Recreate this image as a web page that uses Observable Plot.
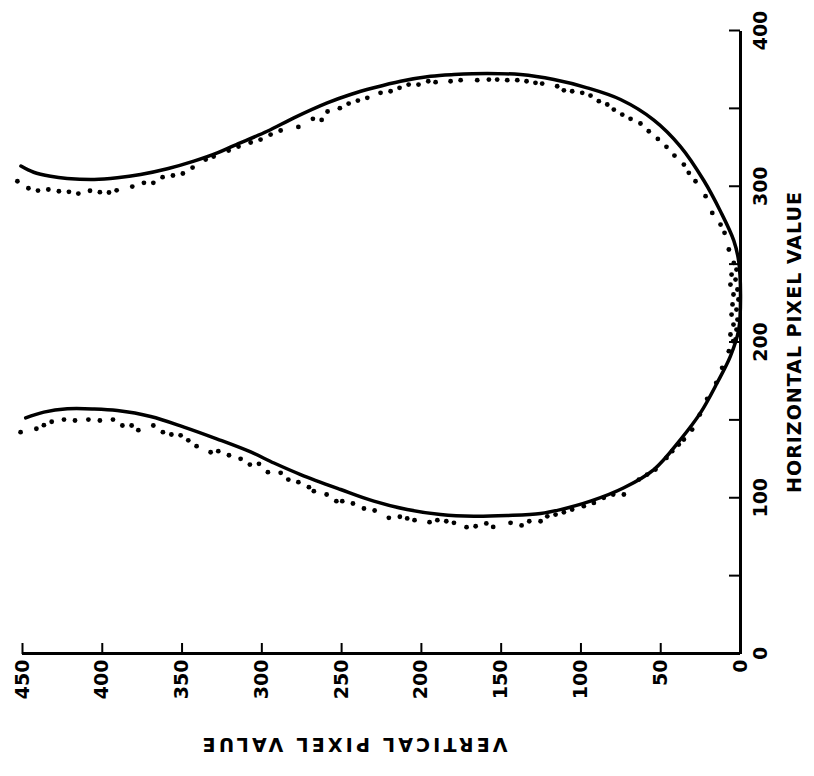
<!DOCTYPE html>
<html><head><meta charset="utf-8">
<script src="https://cdn.jsdelivr.net/npm/d3@7"></script>
<script src="https://cdn.jsdelivr.net/npm/@observablehq/plot@0.6"></script>
<style>
html,body{margin:0;padding:0;background:#fff;overflow:hidden;width:814px;height:776px;}
#wrap{position:absolute;left:0;top:0;width:776px;height:814px;transform-origin:0 0;transform:translate(0px,776px) rotate(-90deg);}
</style></head><body><div id="wrap"></div>
<script>
// Model curve (solid line), in path order: horizontal pixel value (h) and vertical pixel value (v)
const lineH = [313,309,306.4,305,304.3,305.4,307.5,311.2,316.1,321.4,326.1,335.3,343.9,353.5,358.9,363.2,367.4,370.6,371.7,372.4,371.7,368.5,363.2,355.7,342.5,325.5,303.7,283.8,265.1,251.7,230.5,208,190.9,173.8,154.5,137.4,118.1,106.4,97.8,92.4,89.9,88.6,88.1,89.2,92.4,97.8,105.3,114.9,122.3,129.4,137.7,145.4,152.2,156.0,157.0,157.1,155.0,151.3];
const lineV = [451,443,432.4,422,405,390.6,376,359.2,342.6,327.9,317.5,296.6,279.9,259,244.4,229.8,213,194.2,179.6,158.7,137.9,117,96.1,75.2,54.3,37.6,23,12.5,4.2,1.1,0,1.1,6.3,14.6,25.1,37.6,54.3,73.1,94,112.8,125.3,146.2,167.1,188,208.9,229.8,250.6,275.7,292.4,307.0,327.9,348.8,369.7,390.6,405.2,421.9,436.6,448];

// Measured points (dots)
const dotH = [303.2,298.7,297.2,297.9,296.8,296.4,295.3,297.1,296.2,296.0,297.4,299.8,302.2,302.2,305.8,306.9,308.2,312.0,317.1,319.1,322.9,325.5,328.1,330.0,333.2,335.8,338.1,343.3,342.6,348.0,350.1,353.1,355.0,356.8,360.0,361.0,363.2,365.3,365.3,367.4,366.8,367.4,368.1,368.1,368.5,368.5,368.1,368.1,367.4,366.4,365.9,364.2,361.6,361.0,360.0,358.2,354.6,352.5,349.2,346.0,343.3,340.3,335.3,330.4,325.3,319.7,313.9,308.6,303.2,293.6,282.9,275.4,270.1,259.4,250.8,
246.5,243.3,240.1,236.9,233.7,230.5,227.3,224.1,220.8,217.6,214.4,211.2,208.0,204.8,201.6,
200.5,194.1,183.4,173.8,163.5,153.4,143.8,137.4,134.2,129.9,125.6,118.1,114.9,111.7,102.1,102.1,100.0,96.7,94.6,92.4,90.7,89.2,88.1,84.9,84.9,82.2,83.9,81.3,83.5,81.7,81.1,83.9,84.9,85.6,84.3,85.6,86.7,87.8,87.1,91.8,93.1,96.3,97.8,97.8,102.1,104.2,106.8,110.0,111.7,116.0,116.4,121.8,121.3,125.0,127.3,129.9,129.2,133.1,136.9,140.1,140.6,142.1,146.4,143.4,146.4,146.4,150.2,149.6,150.2,149.6,150.2,148.8,146.6,144.3,142.1];
const dotV = [453.2,446.3,440.3,433.8,427.2,420.9,415.0,407.7,401.5,395.8,391.0,381.2,373.9,368.0,362.2,355.7,349.5,343.4,335.2,330.2,320.8,314.6,307.0,300.8,294.5,288.2,277.1,268.0,262.5,258.8,251.1,245.6,239.8,233.9,225.6,219.3,213.7,208.0,201.8,195.7,191.1,181.7,175.4,165.0,157.7,152.5,146.2,139.9,134.1,128.5,124.3,114.9,110.7,105.5,99.2,94.0,88.8,83.5,79.4,74.1,68.9,62.7,57.5,51.8,46.4,41.4,35.5,32.4,28.2,21.9,17.7,12.5,10.0,7.3,4.2,
2.5,5.6,3.1,6.3,1.9,4.4,1.3,5.0,2.5,5.6,1.9,4.4,2.5,6.3,3.1,
4.6,7.3,11.5,15.2,20.9,25.5,30.3,35.5,38.7,42.8,46.4,53.3,58.5,63.7,73.1,79.8,85.7,91.9,98.2,105.5,110.7,115.9,121.1,125.3,132.4,137.2,144.1,155.0,159.3,166.0,171.7,179.6,184.4,190.0,194.9,204.3,208.9,213.5,220.4,229.3,236.0,242.9,249.6,253.3,259.4,267.4,270.5,277.1,283.4,288.2,296.2,301.8,307.5,313.3,320.6,327.3,332.1,340.9,346.1,350.9,356.7,362.0,368.0,377.4,381.6,387.4,393.3,401.5,408.7,417.1,424.0,431.7,436.6,441.3,451.2];

const hTicks = [0,50,100,150,200,250,300,350,400];
const vTicks = [0,50,100,150,200,250,300,350,400,450];
const hLabels = [0,100,200,300,400];
const vLabels = [0,50,100,150,200,250,300,350,400,450];
const xTitle = "HORIZONTAL PIXEL VALUE";
const yTitle = "VERTICAL PIXEL VALUE";

const curve = lineH.map((h, i) => ({h, v: lineV[i]}));
const pts = dotH.map((h, i) => ({h, v: dotV[i]}));

const W = 776, H = 814, mL = 122, mR = 31, mT = 22, mB = 74, tick = 11;
const font = {fontSize: 19, fontWeight: "bold"};

const chart = Plot.plot({
  width: W, height: H,
  marginLeft: mL, marginRight: mR, marginTop: mT, marginBottom: mB,
  style: {fontFamily: "DejaVu Sans", background: "#fff", color: "#000", overflow: "visible"},
  x: {domain: [0, 400]},
  y: {domain: [0, 450]},
  marks: [
    Plot.ruleX(hTicks, {x: d => d, insetTop: H - mT - mB - tick, strokeWidth: 2}),
    Plot.ruleY(vTicks, {y: d => d, insetRight: W - mL - mR - tick, strokeWidth: 2}),
    Plot.ruleY([0], {strokeWidth: 3}),
    Plot.ruleX([0], {strokeWidth: 3}),
    Plot.axisX({ticks: hLabels, tickSize: 0, tickPadding: 13, label: null, ...font}),
    Plot.axisY({ticks: vLabels, tickSize: 0, tickPadding: 6, label: null, ...font}),
    Plot.line(curve, {x: "h", y: "v", curve: "catmull-rom", strokeWidth: 3.5}),
    Plot.dot(pts, {x: "h", y: "v", r: 2.4, fill: "#000", stroke: null}),
    Plot.text([xTitle], {text: d => d, frameAnchor: "bottom", dy: 47, lineAnchor: "top", textAnchor: "middle", ...font}),
    Plot.text([yTitle], {text: d => d, frameAnchor: "left", rotate: -90, dx: -98, dy: -28, lineAnchor: "top", textAnchor: "middle", ...font})
  ]
});
d3.select(chart).selectAll("text").filter(function () { return this.textContent === xTitle; }).style("letter-spacing", "1px");
d3.select(chart).selectAll("text").filter(function () { return this.textContent === yTitle; }).style("letter-spacing", "3.2px");
document.getElementById("wrap").appendChild(chart);
</script>
</body></html>
